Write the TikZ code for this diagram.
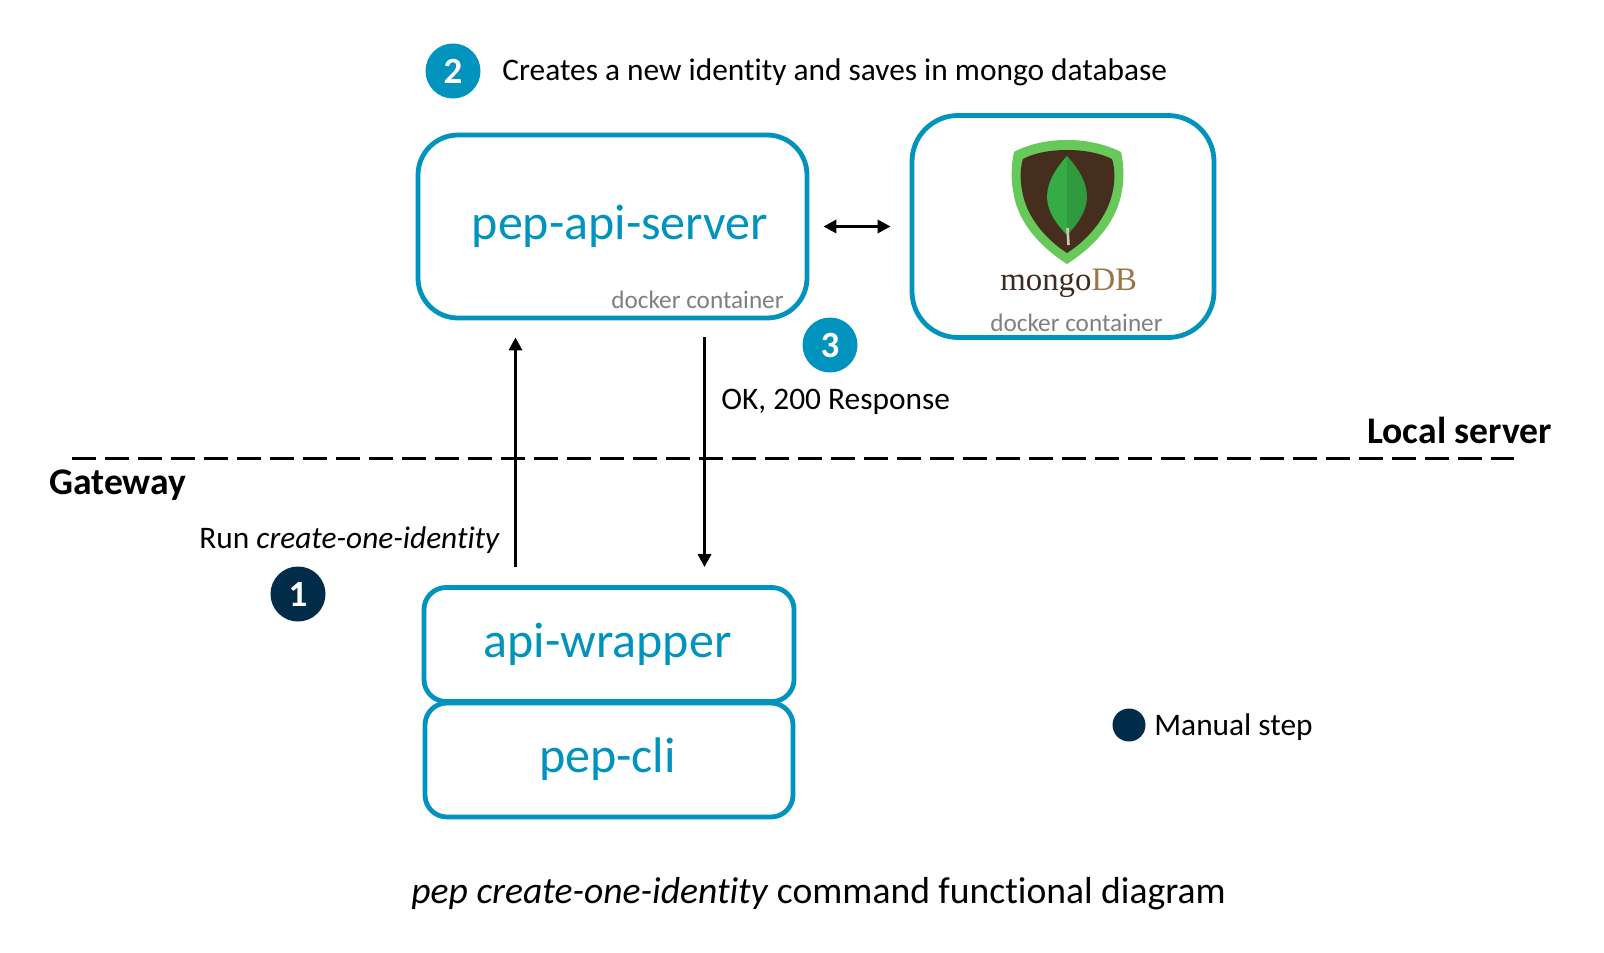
\documentclass[tikz,border=0pt]{standalone}
\usepackage{fontspec}
\setmainfont[Ligatures=NoCommon,ItalicFeatures={Ligatures=NoCommon},BoldFeatures={Ligatures=NoCommon}]{Carlito}
\newfontfamily\logofont{Liberation Serif}
\usetikzlibrary{arrows.meta,calc}
\definecolor{pepblue}{HTML}{0093BE}
\definecolor{navy}{HTML}{002B49}
\definecolor{greytxt}{HTML}{7F7F7F}
\definecolor{shieldgreen}{HTML}{66C95A}
\definecolor{shieldbrown}{HTML}{452E1E}
\definecolor{leaflight}{HTML}{35AC46}
\definecolor{leafdark}{HTML}{2F9A3E}
\definecolor{stemcol}{HTML}{CFC9AE}
\definecolor{logodark}{HTML}{3F2A1E}
\definecolor{logotan}{HTML}{9A7547}
\tikzset{
  x=0.5pt,y=-0.5pt,
  box/.style={draw=pepblue,line width=2.4pt,inner sep=0pt},
  boxlabel/.style={text=pepblue,font=\fontsize{25}{30}\selectfont,anchor=base,inner sep=0pt},
  dockerlabel/.style={text=greytxt,font=\fontsize{12.6}{15}\selectfont,anchor=base west,inner sep=0pt},
  plain/.style={text=black,font=\fontsize{15.68}{18}\selectfont,anchor=base west,inner sep=0pt},
  zone/.style={text=black,font=\bfseries\fontsize{18.8}{22}\selectfont,anchor=base west,inner sep=0pt},
  badge/.style={circle,fill=pepblue,text=white,minimum size=27.5pt,inner sep=0pt,font=\bfseries\fontsize{18.5}{22}\selectfont},
  navybadge/.style={badge,fill=navy},
  arr/.style={line width=1.6pt,-{Triangle[length=6.5pt,width=6.5pt]}},
  dbl/.style={line width=1.6pt,{Triangle[length=6.5pt,width=6.5pt]}-{Triangle[length=6.5pt,width=6.5pt]}},
}
\begin{document}
\begin{tikzpicture}
\useasboundingbox (0,0) rectangle (1604,952);
% boxes
\node[box,rounded corners=20pt,minimum width=194.5pt,minimum height=91.5pt] (server) at (612.5,226.5) {};
\node[box,rounded corners=23pt,minimum width=151pt,minimum height=111pt] (mongo) at (1063,226.5) {};
\node[box,rounded corners=11pt,minimum width=185pt,minimum height=57pt] (wrapper) at (609,644.5) {};
\node[box,rounded corners=11pt,minimum width=184pt,minimum height=57pt] (cli) at (609,760) {};
% box labels
\node[boxlabel] (serverlabel) at (620,239) {pep-api-server};
\node[boxlabel] (wrapperlabel) at (607.5,657) {api-wrapper};
\node[boxlabel] (clilabel) at (607.5,772) {pep-cli};
\node[dockerlabel] (dockerserver) at (611,308) {docker container};
\node[dockerlabel] (dockermongo) at (990,331) {docker container};
% logo
\fill[shieldgreen] (1067,140) .. controls (1045,140) and (1027,145) .. (1014,152)
  .. controls (1011,165) and (1011,180) .. (1013,190)
  .. controls (1017,225) and (1045,250) .. (1067,264)
  .. controls (1089,250) and (1117,225) .. (1122,190)
  .. controls (1124,180) and (1124,165) .. (1121,152)
  .. controls (1107,145) and (1089,140) .. (1067,140) -- cycle;
\fill[shieldbrown] (1067,150) .. controls (1050,150) and (1034,153) .. (1023,159)
  .. controls (1020,168) and (1020,180) .. (1022,190)
  .. controls (1026,218) and (1048,241) .. (1067,253)
  .. controls (1086,241) and (1108,218) .. (1113,190)
  .. controls (1115,180) and (1115,168) .. (1112,159)
  .. controls (1100,153) and (1084,150) .. (1067,150) -- cycle;
\fill[leaflight] (1067,156) .. controls (1056,168) and (1047,182) .. (1047,197)
  .. controls (1047,212) and (1058,226) .. (1067,235) -- cycle;
\fill[leafdark] (1067,156) .. controls (1078,168) and (1087,182) .. (1087,197)
  .. controls (1087,212) and (1076,226) .. (1067,235) -- cycle;
\draw[stemcol,line width=1.3pt] (1067.5,228) -- (1068.5,245);
\node[font=\logofont\fontsize{16.4}{18}\selectfont,anchor=base west,inner sep=0pt] (logotext) at (1000,290)
  {\textcolor{logodark}{mongo}\textcolor{logotan}{DB}};
% divider
\coordinate (divl) at (72,458);
\coordinate (divr) at (1514,458);
\draw[line width=1.5pt,dash pattern=on 12pt off 4.5pt] (divl) -- (divr);
% connectors
\coordinate (upx) at (515.5,0);
\coordinate (downx) at (704.5,0);
\draw[arr,shorten <=9pt,shorten >=8.5pt] (wrapper.north -| upx) -- (server.south -| upx);
\draw[arr,shorten <=8.5pt,shorten >=9pt] (server.south -| downx) -- (wrapper.north -| downx);
\draw[dbl,shorten <=7pt,shorten >=9.5pt] (server.east) -- (mongo.west);
% badges
\node[badge] (two) at (453,71) {2};
\node[badge] (three) at (830,345) {3};
\node[navybadge] (one) at (298,594) {1};
\fill[navy] (1129,725) circle (16.5) coordinate (legenddot);
% text
\node[plain] (creates) at (502,81) {Creates a new identity and saves in mongo database};
\node[plain] (ok) at (721,409) {OK, 200 Response};
\node[plain] (run) at (199,548) {Run \textit{create-one-identity}};
\node[plain] (manual) at (1154,735) {Manual step};
\node[zone] (gateway) at (49,494) {Gateway};
\node[zone] (local) at (1367,443) {Local server};
\node[text=black,font=\fontsize{18.8}{22}\selectfont,anchor=base west,inner sep=0pt] (caption) at (411,903) {\textit{pep create-one-identity} command functional diagram};
\end{tikzpicture}
\end{document}
